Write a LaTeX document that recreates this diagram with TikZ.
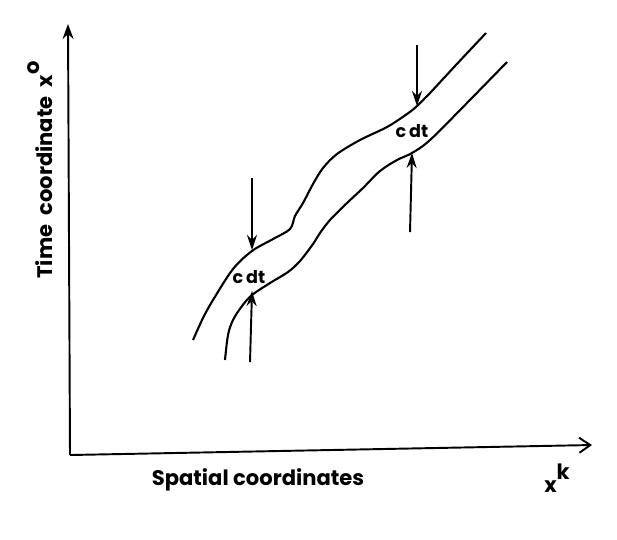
\documentclass[tikz,border=0pt]{standalone}
\usepackage{fontspec}
\setmainfont{Poppins}
\usepackage{tikz}
\usetikzlibrary{positioning,arrows.meta}

\begin{document}
\begin{tikzpicture}[x=0.02cm,y=-0.02cm,
axis/.style={line width=1.1pt, -{Straight Barb[length=2.2mm,width=3mm]}},
yaxis/.style={line width=1.1pt, -{Stealth[length=3mm,width=2.2mm]}},
world/.style={line width=1.2pt, smooth, tension=0.55},
paths/.style={line width=1.1pt, -{Stealth[length=3mm,width=2mm]}},
lbl/.style={font=\bfseries\large, inner sep=1pt}
]
\useasboundingbox (0,0) rectangle (617,539);

%create coordinates
\coordinate (origin) at (70,455);
\coordinate (xend) at (592,445);
\coordinate (yend) at (68,24);

\coordinate (down1a) at (252,178);
\coordinate (down1b) at (252,250);
\coordinate (up1a) at (250,362);
\coordinate (up1b) at (252,291);
\coordinate (down2a) at (417,45);
\coordinate (down2b) at (417,106);
\coordinate (up2a) at (410,232);
\coordinate (up2b) at (412,153);

%create labels
\node[lbl, rotate=90] (tlab) at (40,170) {Time~ coordinate~ x\raisebox{1.1ex}{o}};
\node[lbl] (slab) at (258,480) {Spatial coordinates};
\node[lbl] (xk) at (557,478) {x\raisebox{1.1ex}{k}};
\node[lbl, font=\bfseries] (cdt1) at (249,277) {c\,dt};
\node[lbl, font=\bfseries] (cdt2) at (412,131) {c\,dt};

%draw axes
\draw[axis] (origin) -- (xend);
\draw[yaxis] (origin) -- (yend);

%draw world tube
\draw[world] plot coordinates {(193,340) (203,318) (213,300) (233,269) (252,251) (273,239)
  (290,229) (295,216) (303,203) (313,184) (323,168) (337,154) (360,140) (387,127)
  (407,114) (417,106) (430,93) (455,66) (486,33)};
\draw[world] plot coordinates {(225,360) (228,335) (233,320) (242,306) (252,295) (270,283)
  (288,272) (300,261) (313,244) (320,233) (330,220) (347,203) (363,188) (380,171)
  (397,160) (412,153) (430,140) (465,105) (507,62)};

%draw widths
\draw[paths] (down1a) -- (down1b);
\draw[paths] (up1a) -- (up1b);
\draw[paths] (down2a) -- (down2b);
\draw[paths] (up2a) -- (up2b);

\end{tikzpicture}
\end{document}
